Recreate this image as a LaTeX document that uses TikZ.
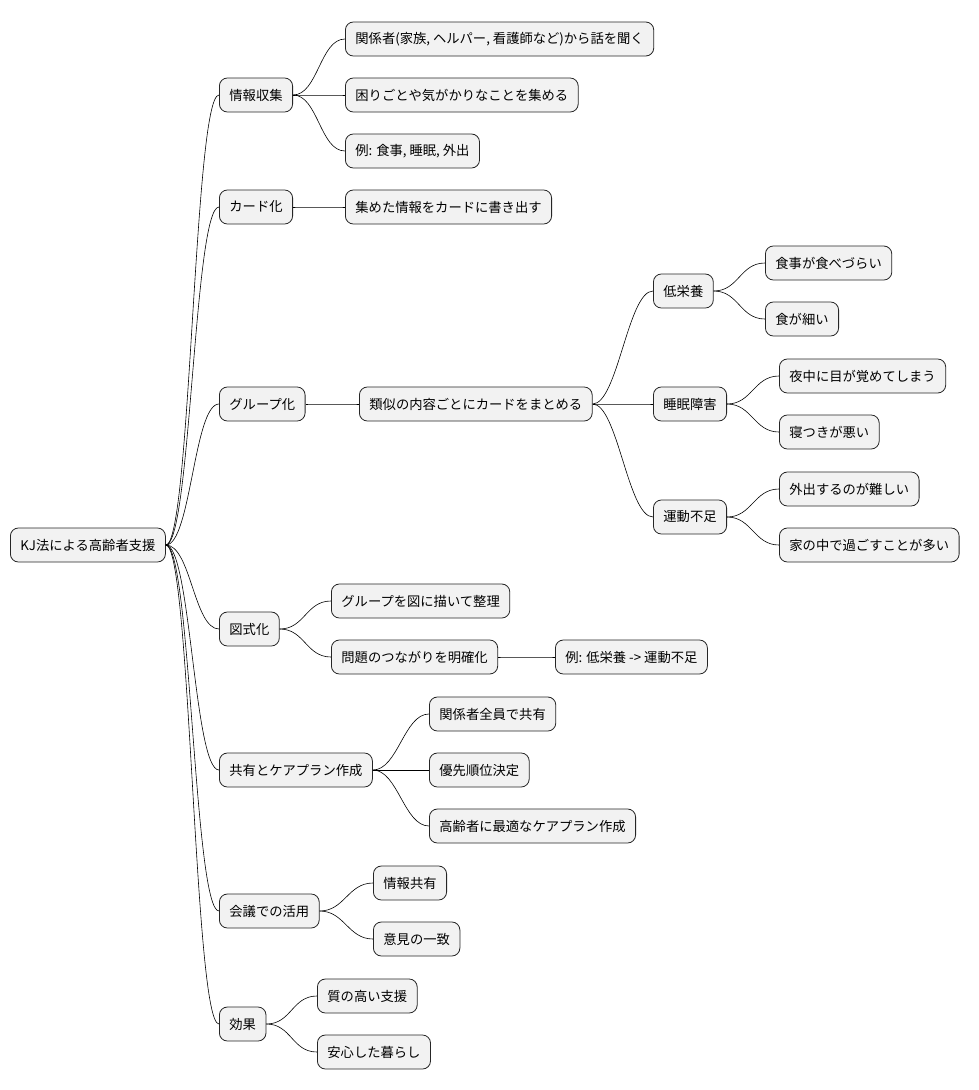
\documentclass[tikz,border=0pt]{standalone}
\usepackage{fontspec}
\setmainfont{Noto Sans CJK JP}
\begin{document}
\begin{tikzpicture}[x=1pt,y=-1pt,
  mm/.style={draw=black!85,fill=black!5,rounded corners=8pt,line width=0.8pt,anchor=west,minimum height=34pt,inner xsep=10pt,font=\fontsize{13.3}{16}\selectfont},
  cn/.style={draw=black,line width=0.6pt}]
\useasboundingbox (0,0) rectangle (978,1090);
\node[mm] (r) at (10,545) {KJ法による高齢者支援};
\node[mm] (a) at (219,95) {情報収集};
\node[mm] (a1) at (345,39) {関係者(家族, ヘルパー, 看護師など)から話を聞く};
\node[mm] (a2) at (345,95) {困りごとや気がかりなことを集める};
\node[mm] (a3) at (345,151) {例: 食事, 睡眠, 外出};
\node[mm] (b) at (219,207) {カード化};
\node[mm] (b1) at (345,207) {集めた情報をカードに書き出す};
\node[mm] (c) at (219,404) {グループ化};
\node[mm] (c1) at (359,404) {類似の内容ごとにカードをまとめる};
\node[mm] (d1) at (653,291) {低栄養};
\node[mm] (d11) at (765,263) {食事が食べづらい};
\node[mm] (d12) at (765,319) {食が細い};
\node[mm] (d2) at (653,404) {睡眠障害};
\node[mm] (d21) at (779,376) {夜中に目が覚めてしまう};
\node[mm] (d22) at (779,432) {寝つきが悪い};
\node[mm] (d3) at (653,517) {運動不足};
\node[mm] (d31) at (779,489) {外出するのが難しい};
\node[mm] (d32) at (779,545) {家の中で過ごすことが多い};
\node[mm] (e) at (219,629) {図式化};
\node[mm] (e1) at (331,601) {グループを図に描いて整理};
\node[mm] (e2) at (331,657) {問題のつながりを明確化};
\node[mm] (e21) at (555,657) {例: 低栄養 -> 運動不足};
\node[mm] (f) at (219,770) {共有とケアプラン作成};
\node[mm] (f1) at (429,714) {関係者全員で共有};
\node[mm] (f2) at (429,770) {優先順位決定};
\node[mm] (f3) at (429,826) {高齢者に最適なケアプラン作成};
\node[mm] (g) at (219,911) {会議での活用};
\node[mm] (g1) at (373,883) {情報共有};
\node[mm] (g2) at (373,939) {意見の一致};
\node[mm] (h) at (219,1024) {効果};
\node[mm] (h1) at (317,996) {質の高い支援};
\node[mm] (h2) at (317,1052) {安心した暮らし};
\foreach \p/\c in {r/a,r/b,r/c,r/e,r/f,r/g,r/h,a/a1,a/a2,a/a3,b/b1,c/c1,c1/d1,c1/d2,c1/d3,d1/d11,d1/d12,d2/d21,d2/d22,d3/d31,d3/d32,e/e1,e/e2,e2/e21,f/f1,f/f2,f/f3,g/g1,g/g2,h/h1,h/h2}
  \draw[cn] (\p.east) .. controls +(25,0) and +(-25,0) .. (\c.west);
\end{tikzpicture}
\end{document}
